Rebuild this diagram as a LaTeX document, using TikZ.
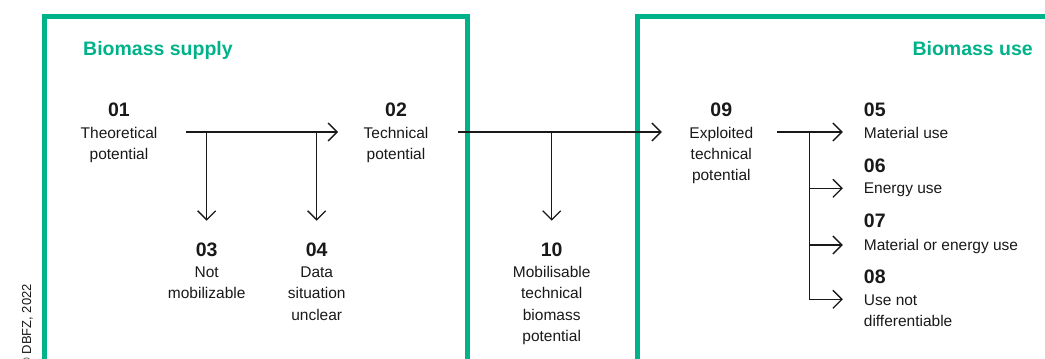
\documentclass[tikz,border=0pt]{standalone}
\usepackage{fontspec}
\setmainfont{Liberation Sans}
\usetikzlibrary{arrows.meta}
\definecolor{dbfzgreen}{RGB}{0,178,137}
\definecolor{ink}{RGB}{25,25,25}
\newcommand\mylines[2]{\begin{tabular}[t]{@{}#1@{}}#2\end{tabular}}
\tikzset{
  frame/.style={draw=dbfzgreen, line width=5pt},
  title/.style={font=\fontsize{19.5}{22}\selectfont\bfseries, text=dbfzgreen, inner sep=0pt, anchor=base west},
  num/.style={font=\fontsize{19.5}{22}\selectfont\bfseries, text=ink, inner sep=0pt, anchor=base},
  num west/.style={num, anchor=base west},
  lbl/.style={font=\fontsize{15.5}{21.3}\selectfont, text=ink, inner sep=0pt, anchor=base},
  lbl west/.style={lbl, anchor=base west},
  arr/.style={draw=ink, line width=1.3pt, -{Straight Barb[length=9pt,width=18pt,line width=1.3pt]}},
  ln/.style={draw=ink, line width=1.3pt},
}
\begin{document}
\begin{tikzpicture}[x=1pt,y=-1pt]
\useasboundingbox (0,0) rectangle (1045,359);
\clip (0,0) rectangle (1045,359);
% frames
\draw[frame] (44.5,370) -- (44.5,16.5) -- (467.5,16.5) -- (467.5,370);
\draw[frame] (637,370) -- (637,16.5) -- (1060,16.5);
% titles
\node[title] (tsup) at (83,55) {Biomass supply};
\node[title, anchor=base east] (tuse) at (1033,55) {Biomass use};
% copyright
\node[font=\fontsize{13}{15}\selectfont, text=ink, inner sep=0pt, rotate=90, anchor=east] (copy) at (27.5,284) {© DBFZ, 2022};
% items
\node[num] (n01) at (119,116) {01};
\node[lbl] (t01) at (119,138.3) {\mylines{c}{Theoretical\\potential}};
\node[num] (n02) at (396,116) {02};
\node[lbl] (t02) at (396,138.3) {\mylines{c}{Technical\\potential}};
\node[num] (n03) at (206.7,256) {03};
\node[lbl] (t03) at (206.7,277.6) {\mylines{c}{Not\\mobilizable}};
\node[num] (n04) at (316.7,256) {04};
\node[lbl] (t04) at (316.7,277.6) {\mylines{c}{Data\\situation\\unclear}};
\node[num] (n10) at (551.7,256) {10};
\node[lbl] (t10) at (551.7,277.6) {\mylines{c}{Mobilisable\\technical\\biomass\\potential}};
\node[num] (n09) at (721.3,116) {09};
\node[lbl] (t09) at (721.3,138.3) {\mylines{c}{Exploited\\technical\\potential}};
\node[num west] (n05) at (863.7,116) {05};
\node[lbl west] (t05) at (863.7,138.3) {Material use};
\node[num west] (n06) at (863.7,172) {06};
\node[lbl west] (t06) at (863.7,193.7) {Energy use};
\node[num west] (n07) at (863.7,227) {07};
\node[lbl west] (t07) at (863.7,250) {Material or energy use};
\node[num west] (n08) at (863.7,283) {08};
\node[lbl west] (t08) at (863.7,305) {\mylines{l}{Use not\\differentiable}};
% connector points
\coordinate (a1s) at (186,132);
\coordinate (a1e) at (338,132);
\coordinate (b03) at (206.7,132);
\coordinate (e03) at (206.7,220.7);
\coordinate (b04) at (316.7,132);
\coordinate (e04) at (316.7,220.7);
\coordinate (a2s) at (458,132);
\coordinate (a2e) at (661.8,132);
\coordinate (b10) at (551.7,132);
\coordinate (e10) at (551.7,220.7);
\coordinate (a3s) at (777,132);
\coordinate (a3e) at (842.8,132);
\coordinate (trk) at (809.8,132);
\coordinate (e06) at (842.8,188.3);
\coordinate (e07) at (842.8,245);
\coordinate (e08) at (842.8,299.3);
% connectors
\draw[arr] (a1s) -- (a1e);
\draw[arr] (b03) -- (e03);
\draw[arr] (b04) -- (e04);
\draw[arr] (a2s) -- (a2e);
\draw[arr] (b10) -- (e10);
\draw[arr] (a3s) -- (a3e);
\draw[arr] (trk) |- (e08);
\draw[arr] (trk |- e06) -- (e06);
\draw[arr] (trk |- e07) -- (e07);
\end{tikzpicture}
\end{document}
